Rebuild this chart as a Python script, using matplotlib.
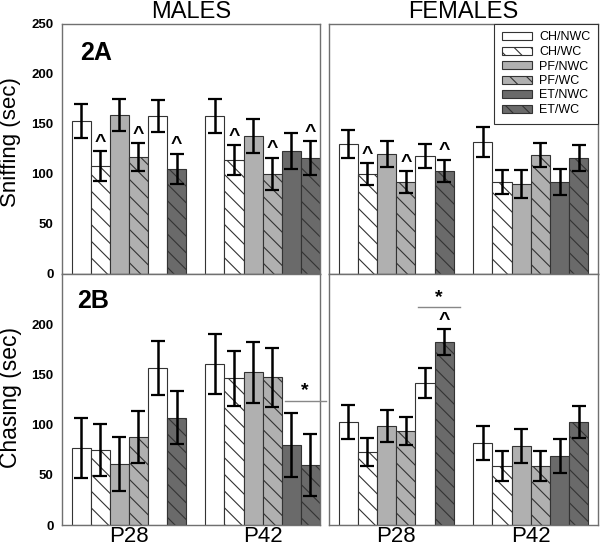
import matplotlib.pyplot as plt
from matplotlib.patches import Patch
import numpy as np

plt.rcParams['font.family'] = ['Liberation Sans', 'DejaVu Sans']
plt.rcParams['hatch.linewidth'] = 0.8

# kelompok perlakuan dan umur
groups = ['CH/NWC', 'CH/WC', 'PF/NWC', 'PF/WC', 'ET/NWC', 'ET/WC']
ages = ['P28', 'P42']

# nilai rata-rata dan SEM (6 bar P28 lalu 6 bar P42)
sniff_m = [153, 108, 159, 117, 158, 105, 158, 114, 138, 100, 123, 116]
sniff_m_err = [17, 15, 16, 14, 16, 15, 17, 15, 17, 16, 18, 17]
sniff_f = [130, 100, 120, 92, 118, 103, 132, 92, 90, 119, 92, 116]
sniff_f_err = [14, 11, 13, 11, 12, 11, 15, 12, 14, 12, 13, 13]
chase_m = [77, 75, 61, 88, 156, 107, 160, 146, 152, 147, 80, 60]
chase_m_err = [30, 26, 27, 26, 27, 26, 30, 27, 30, 29, 32, 31]
chase_f = [103, 73, 99, 94, 141, 182, 82, 59, 79, 59, 69, 103]
chase_f_err = [17, 14, 16, 14, 15, 13, 17, 15, 17, 15, 17, 16]

# bar yang diberi tanda ^
caret_sniff_m = [1, 3, 5, 7, 9, 11]
caret_sniff_f = [1, 3, 5]
caret_chase_m = []
caret_chase_f = [5]

# tanda * : (bar awal, bar akhir, tinggi garis)
sig_chase_m = (10, 11, 124)
sig_chase_f = (4, 5, 217)

LIGHT = '#b0b0b0'
DARK = '#6a6a6a'
HATCH = '\\\\'
legend_faces = ['white', 'white', LIGHT, LIGHT, DARK, DARK]
legend_hatch = ['', HATCH, '', HATCH, '', HATCH]
# warna bar (ET/NWC di P28 tergambar putih pada aslinya)
faces = ['white', 'white', LIGHT, LIGHT, 'white', DARK,
         'white', 'white', LIGHT, LIGHT, DARK, DARK]
hatches = legend_hatch * 2
pos = np.array([0, 1, 2, 3, 4, 5, 7, 8, 9, 10, 11, 12])

fig = plt.figure(figsize=(6, 5.5), dpi=100)
ax_ms = fig.add_axes([62 / 600, 276 / 550, 258 / 600, 250 / 550])
ax_fs = fig.add_axes([329 / 600, 276 / 550, 269 / 600, 250 / 550])
ax_mc = fig.add_axes([62 / 600, 25 / 550, 258 / 600, 251 / 550])
ax_fc = fig.add_axes([329 / 600, 25 / 550, 269 / 600, 251 / 550])


def gambar_panel(ax, vals, errs, carets, sig=None):
    bars = ax.bar(pos, vals, width=1.0, color=faces, edgecolor='#333333',
                  linewidth=0.8, zorder=2)
    for b, h in zip(bars, hatches):
        b.set_hatch(h)
    ax.errorbar(pos, vals, yerr=errs, fmt='none', ecolor='black',
                elinewidth=1.8, capsize=5, capthick=1.6, zorder=3)
    for i in carets:
        ax.text(pos[i], vals[i] + errs[i] + 9, '^', ha='center', va='center',
                fontsize=14, fontweight='bold', zorder=4)
    if sig is not None:
        i, j, y = sig
        ax.plot([pos[i] - 0.35, pos[j] + 0.8], [y, y], color='#888888',
                lw=1.0, clip_on=False, zorder=4)
        ax.text((pos[i] + pos[j]) / 2 + 0.2, y + 1, '*', ha='center',
                va='bottom', fontsize=14, fontweight='bold')
    ax.set_ylim(0, 250)
    for s in ax.spines.values():
        s.set_color('#707070')
        s.set_linewidth(1.0)
    ax.tick_params(length=0)


gambar_panel(ax_ms, sniff_m, sniff_m_err, caret_sniff_m)
gambar_panel(ax_fs, sniff_f, sniff_f_err, caret_sniff_f)
gambar_panel(ax_mc, chase_m, chase_m_err, caret_chase_m, sig_chase_m)
gambar_panel(ax_fc, chase_f, chase_f_err, caret_chase_f, sig_chase_f)

for ax in (ax_ms, ax_mc):
    ax.set_xlim(-1.0, 12.5)
for ax in (ax_fs, ax_fc):
    ax.set_xlim(-1.0, 13.0)
    ax.set_yticks([])

ax_ms.set_yticks([0, 50, 100, 150, 200, 250])
ax_mc.set_yticks([0, 50, 100, 150, 200])
for ax in (ax_ms, ax_mc):
    ax.tick_params(axis='y', pad=6)
    for t in ax.get_yticklabels():
        t.set_fontweight('bold')
        t.set_fontsize(9.5)

for ax in (ax_ms, ax_fs):
    ax.set_xticks([])
for ax in (ax_mc, ax_fc):
    ax.set_xticks([2.5, 9.5])
    ax.set_xticklabels(ages, fontsize=16)
    ax.tick_params(axis='x', pad=1)

ax_ms.set_title('MALES', fontsize=17, pad=4)
ax_fs.set_title('FEMALES', fontsize=17, pad=4)

ax_ms.text(0.07, 0.93, '2A', transform=ax_ms.transAxes, ha='left', va='top',
           fontsize=18, fontweight='bold')
ax_mc.text(0.06, 0.94, '2B', transform=ax_mc.transAxes, ha='left', va='top',
           fontsize=18, fontweight='bold')

fig.text(11 / 600, 1 - 142 / 550, 'Sniffing (sec)', rotation=90,
         ha='center', va='center', fontsize=16)
fig.text(11 / 600, 1 - 398 / 550, 'Chasing (sec)', rotation=90,
         ha='center', va='center', fontsize=16.5)

# legenda di panel betina atas
handles = [Patch(facecolor=c, edgecolor='#333333', hatch=h, linewidth=0.8)
           for c, h in zip(legend_faces, legend_hatch)]
leg = ax_fs.legend(handles, groups, loc='upper right',
                   borderaxespad=0, fontsize=9, handlelength=2.4,
                   handleheight=0.6, labelspacing=0.2, fancybox=False,
                   framealpha=1, edgecolor='#333333', borderpad=0.6,
                   handletextpad=0.6)
leg.get_frame().set_linewidth(0.8)

fig.savefig('out.png', dpi=100)
